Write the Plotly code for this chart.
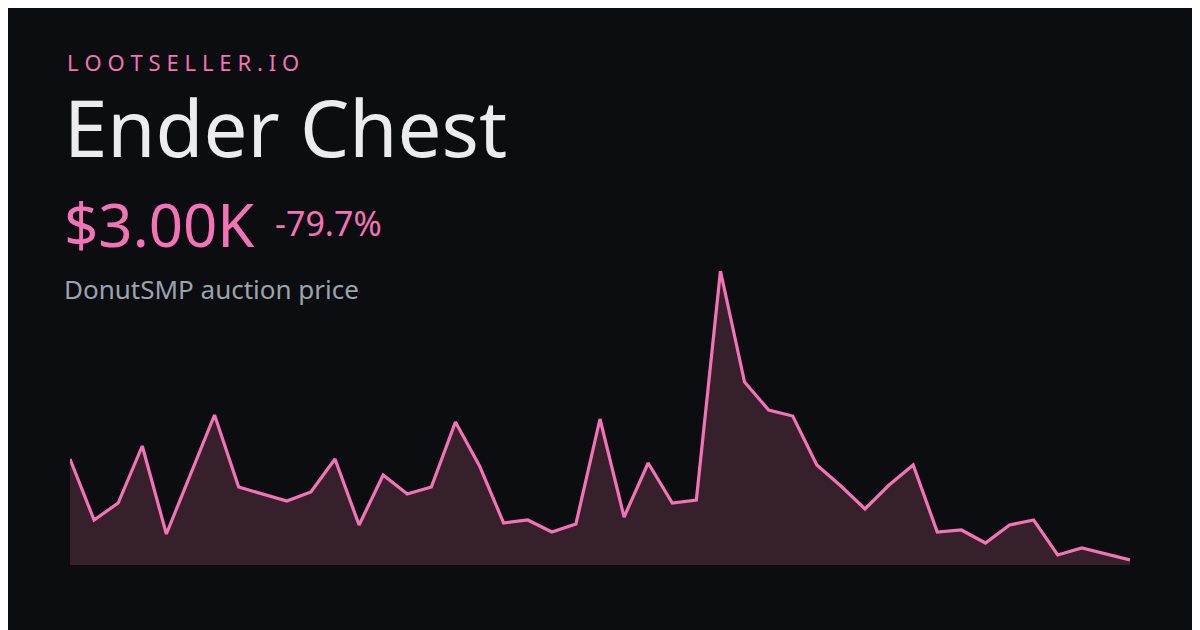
import plotly.graph_objects as go

# heights above baseline (relative price units)
values = [106,45,62,119,31,90,150,78,71,64,73,106,40,90,71,78,143,99,42,45,33,41,146,48,102,62,65,294,183,155,149,100,79,56,80,100,33,35,22,40,45,10,17,11,5]
x = list(range(len(values)))

fig = go.Figure(go.Scatter(x=x, y=values, mode="lines", line=dict(color="#f472b6", width=3.2),
                           fill="tozeroy", fillcolor="#35202c", hoverinfo="skip"))

OFF = 8
L, R, T, B = 70 - OFF, 70 + OFF, 271 - OFF, 65 + OFF
H = 630 - T - B
W = 1200 - L - R
def px(xp): return (xp - OFF - L) / W
def py(yp): return (630 - B - (yp - OFF)) / H

def ann(text, xp, yp, size, color, family="Noto Sans"):
    fig.add_annotation(text=text, x=px(xp), y=py(yp), xref="paper", yref="paper",
                       xanchor="left", yanchor="middle", showarrow=False,
                       font=dict(size=size, color=color, family=family))

ls = "\u2009\u200a".join("LOOTSELLER.IO")
ann(ls, 65, 62, 22, "#f472b6")
ann("Ender Chest", 62, 127, 78, "#ececf0")
ann("$3.00K", 62, 224, 60, "#f472b6")
ann("-79.7%", 273, 223, 34, "#f472b6")
ann("DonutSMP auction price", 62, 289, 26, "#9ca3af")

fig.update_layout(width=1200, height=630, margin=dict(l=L, r=R, t=T, b=B),
                  paper_bgcolor="#0c0d10", plot_bgcolor="#0c0d10", showlegend=False,
                  xaxis=dict(visible=False, range=[0, len(values)-1]),
                  yaxis=dict(visible=False, range=[0, 294]))
fig.write_html("out.html")
